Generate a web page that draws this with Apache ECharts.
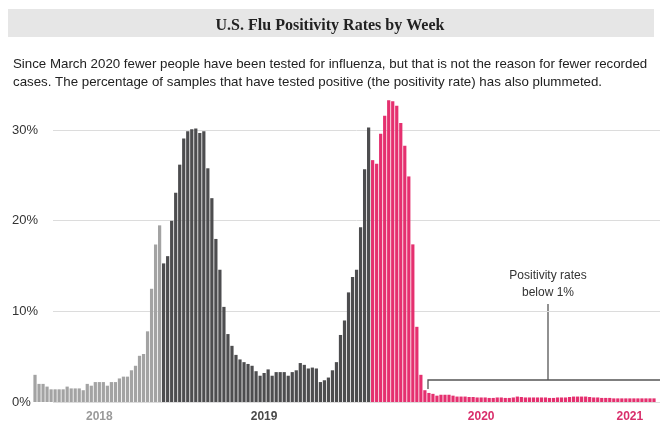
<!DOCTYPE html>
<html>
<head>
<meta charset="utf-8">
<script src="https://cdn.jsdelivr.net/npm/echarts@6/dist/echarts.min.js"></script>
<style>
  html, body { margin: 0; padding: 0; background: #fff; }
  #chart { width: 660px; height: 432px; }
</style>
</head>
<body>
<div id="chart"></div>
<script>
// weekly positivity (%), split by the three colour blocks
var season2018 = [3.0, 2.0, 2.0, 1.7, 1.4, 1.4, 1.4, 1.4, 1.7, 1.5, 1.5, 1.5, 1.3, 2.0, 1.8, 2.2,
  2.2, 2.2, 1.8, 2.2, 2.2, 2.6, 2.8, 2.8, 3.5, 4.0, 5.1, 5.3, 7.8, 12.5, 17.4, 19.5];
var season2019 = [15.3, 16.1, 20.0, 23.1, 26.2, 29.1, 29.9, 30.1, 30.2, 29.7, 29.9, 25.8, 22.5,
  18.0, 14.6, 10.5, 7.5, 6.2, 5.2, 4.7, 4.4, 4.2, 4.0, 3.4, 2.9, 3.2, 3.6, 2.9, 3.3, 3.3, 3.3,
  2.9, 3.3, 3.5, 4.3, 4.1, 3.7, 3.8, 3.7, 2.2, 2.4, 2.7, 3.5, 4.4, 7.4, 9.0, 12.1, 13.8, 14.6,
  19.3, 25.7, 30.3];
var season2020 = [26.7, 26.3, 29.6, 31.6, 33.3, 33.2, 32.7, 30.8, 28.3, 24.9, 17.4, 8.3, 3.0,
  1.3, 1.0, 0.9, 0.7, 0.8, 0.8,
  0.8, 0.7, 0.6, 0.6, 0.6, 0.55, 0.55, 0.5, 0.5, 0.5, 0.45, 0.45, 0.5, 0.5, 0.45, 0.45, 0.5,
  0.6, 0.55, 0.5, 0.5, 0.5, 0.5, 0.5, 0.5, 0.45, 0.45, 0.5, 0.5, 0.5, 0.55, 0.6, 0.6, 0.6,
  0.6, 0.55, 0.5, 0.5, 0.45, 0.45, 0.45, 0.4, 0.4, 0.4, 0.4, 0.4, 0.4, 0.4, 0.4, 0.4, 0.4, 0.4];

var yearLabels = ["2018", "2019", "2020", "2021"];
var yearLabelAt = [16, 57, 111, 148];
var yearColors = ["#9a9a9a", "#4a4a4a", "#d92e6b", "#d92e6b"];
var yTicks = [0, 10, 20, 30];

var colors = ["#a3a3a3", "#4d4d4f", "#e5306f"];

var weeks = [];
var barData = [];
[season2018, season2019, season2020].forEach(function (arr, s) {
  arr.forEach(function (v) {
    weeks.push("w" + weeks.length);
    barData.push({ value: v, itemStyle: { color: colors[s] } });
  });
});

var yearRich = {};
yearColors.forEach(function (c, k) {
  yearRich["y" + k] = { color: c, fontWeight: "bold", fontSize: 12, fontFamily: "Liberation Sans" };
});

var chart = echarts.init(document.getElementById("chart"));
var option = {
  animation: false,
  title: [
    {
      text: "U.S. Flu Positivity Rates by Week",
      left: "center",
      top: 13,
      textStyle: {
        fontFamily: "Liberation Serif",
        fontWeight: "bold",
        fontSize: 16,
        color: "#222"
      }
    },
    {
      text: "Since March 2020 fewer people have been tested for influenza, but that is not the reason for fewer recorded\ncases. The percentage of samples that have tested positive (the positivity rate) has also plummeted.",
      left: 8,
      top: 50,
      textStyle: {
        fontFamily: "Liberation Sans",
        fontWeight: "normal",
        fontSize: 13.3,
        lineHeight: 18,
        color: "#222"
      }
    }
  ],
  graphic: [
    {
      type: "rect",
      z: -10,
      shape: { x: 8, y: 9, width: 646, height: 28 },
      style: { fill: "#e6e6e6" }
    },
    {
      type: "text",
      x: 548,
      y: 267,
      style: {
        text: "Positivity rates\nbelow 1%",
        align: "center",
        verticalAlign: "top",
        font: "12px Liberation Sans",
        lineHeight: 17,
        fill: "#333"
      }
    },
    {
      type: "polyline",
      shape: { points: [[428, 389], [428, 380], [660, 380]] },
      style: { stroke: "#555", lineWidth: 1.3, fill: null }
    },
    {
      type: "line",
      shape: { x1: 548, y1: 304, x2: 548, y2: 380 },
      style: { stroke: "#555", lineWidth: 1.3 }
    }
  ],
  grid: [
    { left: 33, right: 4, top: 94, bottom: 30 },
    { left: 53, right: 0, top: 130, bottom: 30 }
  ],
  xAxis: [
    {
      type: "category",
      data: weeks,
      gridIndex: 0,
      axisLine: { show: false },
      axisTick: { show: false },
      axisLabel: {
        interval: function (i) { return yearLabelAt.indexOf(i) >= 0; },
        formatter: function (v, i) {
          var k = yearLabelAt.indexOf(i);
          return k >= 0 ? "{y" + k + "|" + yearLabels[k] + "}" : "";
        },
        margin: 9,
        rich: yearRich
      }
    },
    { type: "value", gridIndex: 1, show: false, min: 0, max: 1 }
  ],
  yAxis: [
    {
      type: "value",
      gridIndex: 0,
      min: 0,
      max: 34,
      interval: 10,
      axisLine: { show: false },
      axisTick: { show: false },
      splitLine: { show: false },
      axisLabel: {
        align: "left",
        margin: 21,
        fontFamily: "Liberation Sans",
        fontSize: 13,
        color: "#333",
        showMaxLabel: false,
        formatter: function (v) { return yTicks.indexOf(v) >= 0 ? v + "%" : ""; }
      }
    },
    {
      type: "value",
      gridIndex: 1,
      min: 0,
      max: 30,
      interval: 10,
      axisLine: { show: false },
      axisTick: { show: false },
      axisLabel: { show: false },
      splitLine: { show: true, lineStyle: { color: "#dcdcdc", width: 1 } }
    }
  ],
  series: [
    {
      type: "bar",
      xAxisIndex: 0,
      yAxisIndex: 0,
      data: barData,
      barCategoryGap: "20%",
      z: 3
    }
  ]
};
chart.setOption(option);
</script>
</body>
</html>
